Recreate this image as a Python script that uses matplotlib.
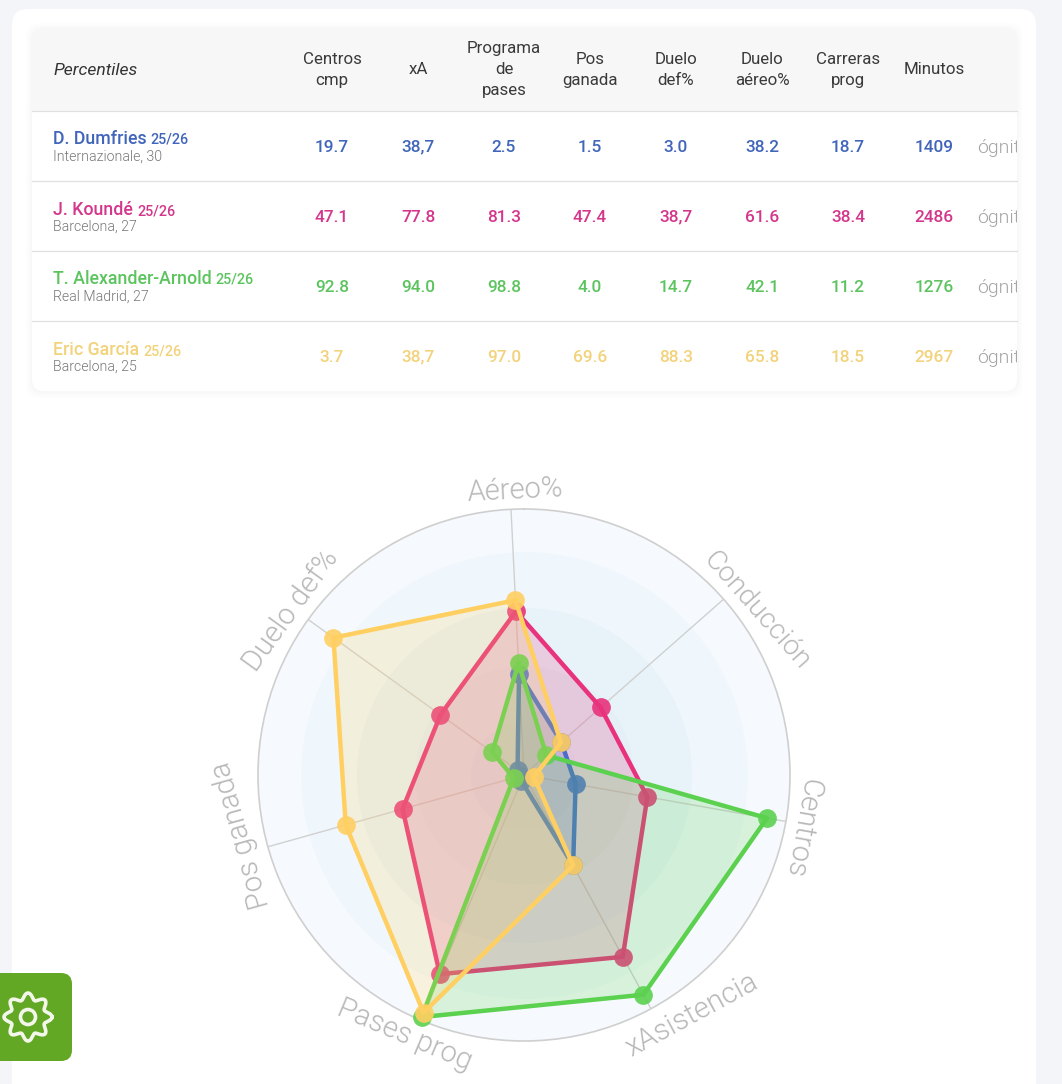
import numpy as np
import matplotlib
matplotlib.use('Agg')
import matplotlib.pyplot as plt
from matplotlib.patches import FancyBboxPatch, Rectangle, Circle

W, H = 1062, 1084

# Table data
columns = ['Centros\ncmp', 'xA', 'Programa\nde\npases', 'Pos\nganada', 'Duelo\ndef%',
           'Duelo\naéreo%', 'Carreras\nprog', 'Minutos']
players = ['D. Dumfries', 'J. Koundé', 'T. Alexander-Arnold', 'Eric García']
clubs = ['Internazionale, 30', 'Barcelona, 27', 'Real Madrid, 27', 'Barcelona, 25']
season = '25/26'
dumfries_cells = ['19.7', '38,7', '2.5', '1.5', '3.0', '38.2', '18.7', '1409']
kounde_cells = ['47.1', '77.8', '81.3', '47.4', '38,7', '61.6', '38.4', '2486']
taa_cells = ['92.8', '94.0', '98.8', '4.0', '14.7', '42.1', '11.2', '1276']
garcia_cells = ['3.7', '38,7', '97.0', '69.6', '88.3', '65.8', '18.5', '2967']
table_rows = [dumfries_cells, kounde_cells, taa_cells, garcia_cells]

# Radar data, clockwise from the top
radar_labels = ['Aéreo%', 'Conducción', 'Centros', 'xAsistencia', 'Pases prog', 'Pos ganada', 'Duelo def%']
dumfries = [38.2, 18.7, 19.7, 38.7, 2.5, 1.5, 3.0]
kounde = [61.6, 38.4, 47.1, 77.8, 81.3, 47.4, 38.7]
taa = [42.1, 11.2, 92.8, 94.0, 98.8, 4.0, 14.7]
garcia = [65.8, 18.5, 3.7, 38.7, 97.0, 69.6, 88.3]

text_colors = ['#4065bb', '#d4368c', '#5cc45e', '#f2d27a']
blue, pink, green, yellow = '#4c6cc8', '#e8327c', '#5bd14f', '#ffcf62'

# painting order of the radar, not the order of the table
radar_series = [kounde, dumfries, taa, garcia]
line_colors = [pink, blue, green, yellow]

plt.rcParams['font.family'] = ['Roboto', 'DejaVu Sans']

fig = plt.figure(figsize=(W / 100, H / 100), dpi=100, facecolor='#f3f5f9')

# page layer in pixel coordinates
page = fig.add_axes([0, 0, 1, 1])
page.set_xlim(0, W)
page.set_ylim(H, 0)
page.axis('off')

page.add_patch(FancyBboxPatch((12, 9), 1024, 1200, boxstyle='round,pad=0,rounding_size=16',
                              fc='white', ec='none'))
# soft shadow under the table
for grow, a in [(6, 0.006), (4, 0.008), (2, 0.01)]:
    page.add_patch(FancyBboxPatch((32 - grow, 28 - grow + 1), 985 + 2 * grow, 363 + 2 * grow,
                                  boxstyle='round,pad=0,rounding_size=14', fc='black', ec='none', alpha=a))
table_box = FancyBboxPatch((32, 28), 985, 363, boxstyle='round,pad=0,rounding_size=12', fc='white', ec='none')
page.add_patch(table_box)
header = Rectangle((32, 28), 985, 83, fc='#f7f7f7', ec='none')
page.add_patch(header)
header.set_clip_path(table_box)

for y in [111, 181, 251, 321]:
    page.plot([32, 1017], [y, y], color='#e0e0e0', lw=0.9)

column_x = [332, 418, 504, 590, 676, 762, 848, 934]
cell_base = [152, 222, 292, 362]
name_base = [144, 215, 284, 355]
club_base = [161, 231, 301, 371]

page.text(53, 75, 'Percentiles', fontsize=12.6, style='italic', color='#333333', ha='left', va='baseline')
for x, col in zip(column_x, columns):
    lines = col.split('\n')
    for k, line in enumerate(lines):
        page.text(x, 74.5 + (k - (len(lines) - 1) / 2) * 21, line, fontsize=12.2, color='#3a3a3a',
                  ha='center', va='baseline')

renderer = fig.canvas.get_renderer()
for i, cells in enumerate(table_rows):
    name = page.text(53, name_base[i], players[i], fontsize=12.8, weight=500, color=text_colors[i],
                     ha='left', va='baseline')
    # season sits right after the name, so measure the name first
    right = name.get_window_extent(renderer).x1
    page.text(right + 4, name_base[i], season, fontsize=10.3, weight=500, color=text_colors[i],
              ha='left', va='baseline')
    page.text(53, club_base[i], clubs[i], fontsize=10.2, weight=300, color='#777777', ha='left', va='baseline')
    for x, cell in zip(column_x, cells):
        # the comma's descent pushes these a pixel low
        y = cell_base[i] - (1 if ',' in cell else 0)
        page.text(x, y, cell, fontsize=12.4, weight=500, color=text_colors[i], ha='center', va='baseline')
    cut = page.text(977, cell_base[i] + 1, 'ógnita', fontsize=14, weight=300, color='#a5a5a5',
                    ha='left', va='baseline', clip_on=True)
    cut.set_clip_path(Rectangle((32, 28), 985, 363, transform=page.transData))

# settings button
button = FancyBboxPatch((-30, 973), 102, 88, boxstyle='round,pad=0,rounding_size=11', fc='#63a825', ec='none')
page.add_patch(button)
t = np.linspace(0, 2 * np.pi, 300)
gear_r = 20.8 + 3.2 * np.cos(8 * (t - np.pi / 2))
page.plot(28 + gear_r * np.cos(t), 1017 + gear_r * np.sin(t), color='#f2f7ea', lw=2.6)
page.add_patch(Circle((28, 1017), 7.5, fc='none', ec='#f2f7ea', lw=2.6))

# radar, centre (524, 775) radius 266 px
cx, cy, radius = 524, 775, 266
ax = fig.add_axes([(cx - radius) / W, 1 - (cy + radius) / H, 2 * radius / W, 2 * radius / H],
                  projection='polar', facecolor='none')
ax.set_theta_zero_location('N')
ax.set_theta_direction(-1)
ax.set_ylim(0, 100)
ax.grid(False)
ax.set_xticks([])
ax.set_yticks([])
ax.spines['polar'].set_color('#cfcfcf')
ax.spines['polar'].set_linewidth(1.2)

first_axis = np.deg2rad(-2.8)
angles = first_axis + np.arange(len(radar_labels)) * 2 * np.pi / len(radar_labels)

# concentric bands
band_colors = ['#f6fafe', '#f0f7fc', '#e8f3f9', '#e4eff6', '#e0ecf4']
tt = np.linspace(0, 2 * np.pi, 361)
for edge, colour in zip([100, 84, 63, 41, 20], band_colors):
    ax.fill_between(tt, 0, edge, color=colour, lw=0, zorder=1)

for a in angles:
    ax.plot([a, a], [0, 100], color='#d0d0d0', lw=1, zorder=2)

# same zorder on purpose: later fills wash over the earlier lines and dots
closed = np.append(angles, angles[0])
for values, colour in zip(radar_series, line_colors):
    v = np.append(values, values[0])
    ax.fill(closed, v, color=colour, alpha=0.2, lw=0, zorder=3)
    ax.plot(closed, v, color=colour, lw=3.2, zorder=3, solid_joinstyle='round')
    ax.plot(angles, values, 'o', color=colour, ms=13.5, mew=0, alpha=0.9, zorder=3, clip_on=False)

# labels do not sit exactly on their spokes in the original
label_shift = [1, 6, 0.7, -6.5, 1.8, 3.6, -0.5]
label_r = [107, 107, 106.5, 110, 107.5, 108.7, 107.2]
label_size = [21, 20.3, 21, 21, 21, 21, 21]
for a, label, shift, r, size in zip(angles, radar_labels, label_shift, label_r, label_size):
    deg = np.rad2deg(a) % 360
    rot = 180 - deg if 120 < deg < 240 else -deg
    ax.text(a + np.deg2rad(shift), r, label, rotation=rot, rotation_mode='anchor', ha='center', va='center',
            fontsize=size, weight=300, color='#b8b8b8', clip_on=False)

fig.savefig('out.png', dpi=100, facecolor=fig.get_facecolor())
